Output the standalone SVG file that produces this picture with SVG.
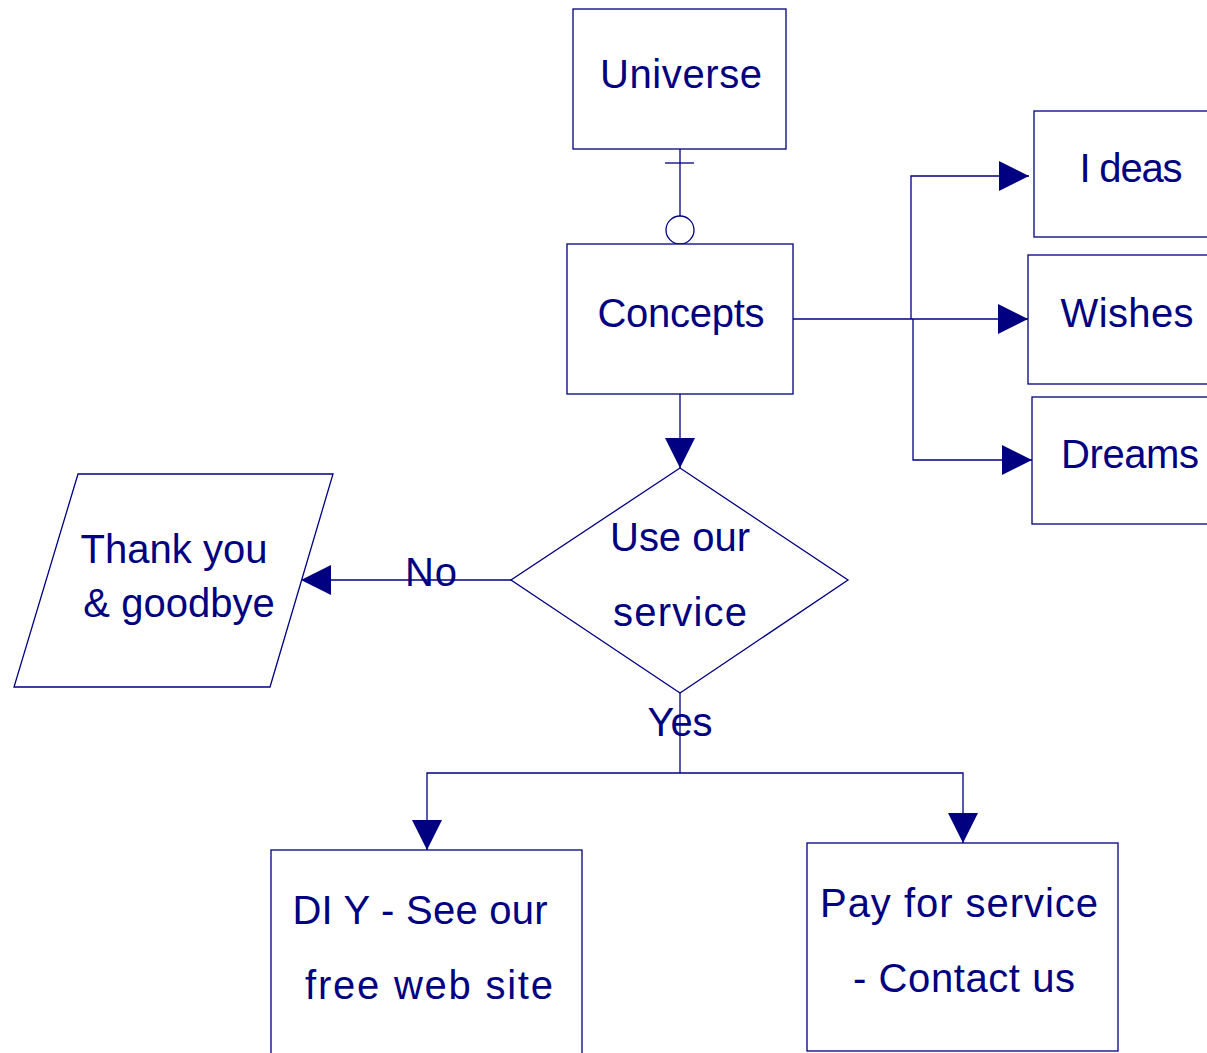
<svg xmlns="http://www.w3.org/2000/svg" width="1207" height="1053" viewBox="0 0 1207 1053">
  <style>
    .shape { fill: #ffffff; stroke: #000080; stroke-width: 1.3; }
    .line { fill: none; stroke: #000080; stroke-width: 1.3; }
    .label { font-family: "Liberation Sans", Arial, sans-serif; font-size: 40px; fill: #000080; text-anchor: middle; }
  </style>
  <defs>
    <marker id="arrow" viewBox="0 0 30 30" refX="30" refY="15" markerWidth="30" markerHeight="30" markerUnits="userSpaceOnUse" orient="auto">
      <path d="M0,0 L30,15 L0,30 Z" fill="#000080"/>
    </marker>
  </defs>
  <rect width="1207" height="1053" fill="#ffffff"/>

  <g id="connectors">
    <!-- Universe to Concepts: one-and-only-one / zero -->
    <line class="line" x1="680" y1="149" x2="680" y2="216"/>
    <line class="line" x1="665" y1="163" x2="694" y2="163"/>
    <circle class="shape" cx="680" cy="230" r="14"/>
    <!-- Concepts fan-out -->
    <polyline class="line" points="793,319 911,319"/>
    <polyline class="line" points="911,319 911,176 1029,176" marker-end="url(#arrow)"/>
    <polyline class="line" points="911,319 1028,319" marker-end="url(#arrow)"/>
    <polyline class="line" points="913,319 913,460 1032,460" marker-end="url(#arrow)"/>
    <!-- Concepts to decision -->
    <line class="line" x1="680" y1="394" x2="680" y2="468" marker-end="url(#arrow)"/>
    <!-- No branch -->
    <line class="line" x1="511" y1="580" x2="301" y2="580" marker-end="url(#arrow)"/>
    <!-- Yes branch -->
    <line class="line" x1="680" y1="693" x2="680" y2="773"/>
    <polyline class="line" points="680,773 427,773 427,850" marker-end="url(#arrow)"/>
    <polyline class="line" points="680,773 963,773 963,843" marker-end="url(#arrow)"/>
    <text class="label" x="431" y="586" textLength="52" lengthAdjust="spacing">No</text>
    <text class="label" x="680" y="736" textLength="65" lengthAdjust="spacing">Yes</text>
  </g>

  <g id="universe">
    <rect class="shape" x="573" y="9" width="213" height="140"/>
    <text class="label" x="681" y="88" textLength="162" lengthAdjust="spacing">Universe</text>
  </g>

  <g id="concepts">
    <rect class="shape" x="567" y="244" width="226" height="150"/>
    <text class="label" x="681" y="327" textLength="167" lengthAdjust="spacing">Concepts</text>
  </g>

  <g id="ideas">
    <rect class="shape" x="1034" y="111" width="190" height="126"/>
    <text class="label" x="1131" y="182" textLength="103" lengthAdjust="spacing">I deas</text>
  </g>

  <g id="wishes">
    <rect class="shape" x="1028" y="255" width="196" height="129"/>
    <text class="label" x="1127" y="327" textLength="133" lengthAdjust="spacing">Wishes</text>
  </g>

  <g id="dreams">
    <rect class="shape" x="1032" y="397" width="192" height="127"/>
    <text class="label" x="1130" y="468" textLength="138" lengthAdjust="spacing">Dreams</text>
  </g>

  <g id="decision">
    <polygon class="shape" points="680,468 848,580 680,693 511,580"/>
    <text class="label" x="680" y="551" textLength="140" lengthAdjust="spacing">Use our</text>
    <text class="label" x="680" y="626" textLength="134" lengthAdjust="spacing">service</text>
  </g>

  <g id="goodbye">
    <polygon class="shape" points="78,474 333,474 270,687 14,687"/>
    <text class="label" x="174" y="563">Thank you</text>
    <text class="label" x="179" y="617">&amp; goodbye</text>
  </g>

  <g id="diy">
    <rect class="shape" x="271" y="850" width="311" height="220"/>
    <text class="label" x="420" y="924" textLength="255" lengthAdjust="spacing">DI Y - See our</text>
    <text class="label" x="429" y="999" textLength="248" lengthAdjust="spacing">free web site</text>
  </g>

  <g id="pay">
    <rect class="shape" x="807" y="843" width="311" height="208"/>
    <text class="label" x="959" y="917" textLength="278" lengthAdjust="spacing">Pay for service</text>
    <text class="label" x="964" y="992" textLength="222" lengthAdjust="spacing">- Contact us</text>
  </g>
</svg>
